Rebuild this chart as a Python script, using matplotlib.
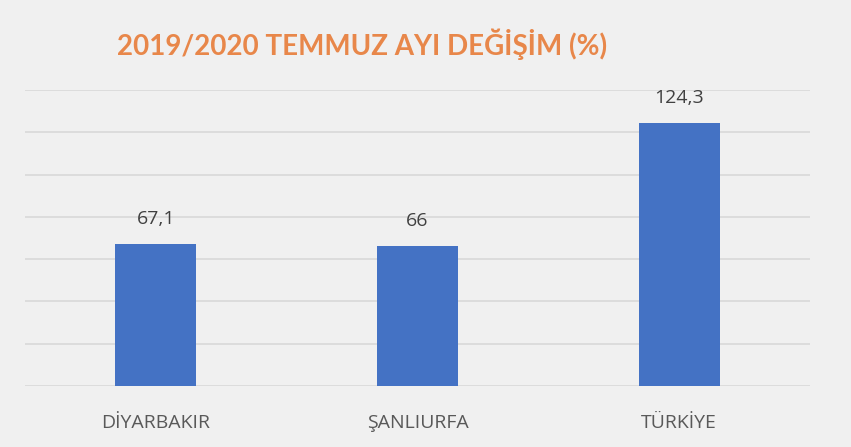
import matplotlib.pyplot as plt
import numpy as np

kategoriler = ['DİYARBAKIR', 'ŞANLIURFA', 'TÜRKİYE']
degerler = [67.1, 66, 124.3]
etiketler = ['67,1', '66', '124,3']

plt.rcParams['font.family'] = ['Open Sans', 'DejaVu Sans']

fig = plt.figure(figsize=(8.51, 4.47), dpi=100, facecolor='#f0f0f0')
ax = fig.add_axes([25 / 851, 1 - 386 / 447, 785 / 851, 296 / 447])
ax.set_facecolor('#f0f0f0')

x = np.arange(len(kategoriler))
bars = ax.bar(x, degerler, width=0.31, color='#4472C4', zorder=3)
for b, t in zip(bars, etiketler):
    ax.text(b.get_x() + b.get_width() / 2, b.get_height() + 9.5, t,
            ha='center', va='baseline', fontsize=14, color='#404040')

ax.set_xlim(-0.5, 2.5)
ax.set_ylim(0, 140)
ax.set_yticks(np.arange(0, 141, 20))
ax.yaxis.grid(True, color='#d9d9d9', linewidth=1.2, zorder=0)
ax.set_yticklabels([])
ax.tick_params(left=False, bottom=False)
ax.set_xticks(x)
ax.set_xticklabels(kategoriler, fontsize=14, color='#595959')
ax.tick_params(axis='x', pad=17)
for s in ax.spines.values():
    s.set_visible(False)

fig.text(362 / 851, 1 - 44 / 447, '2019/2020 TEMMUZ AYI DEĞİŞİM (%)',
         ha='center', va='center', fontsize=20, fontweight='bold',
         color='#E8874A', family=['Lato', 'DejaVu Sans'])

fig.savefig('out.png', dpi=100, facecolor=fig.get_facecolor())
